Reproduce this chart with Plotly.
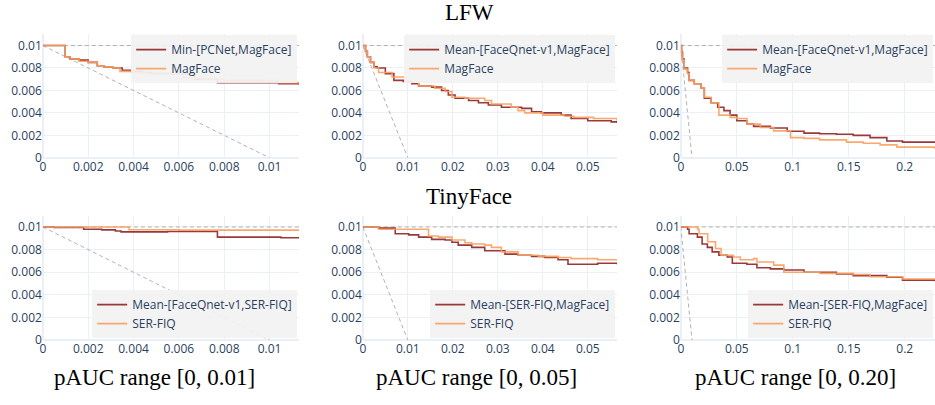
import plotly.graph_objects as go

# ---------------- data ----------------
row_titles = ["LFW", "TinyFace"]
col_titles = ["pAUC range [0, 0.01]", "pAUC range [0, 0.05]", "pAUC range [0, 0.20]"]
x_max = [0.0113, 0.0565, 0.227]
x_dtick = [0.002, 0.01, 0.05]

names = [
    ["Min-[PCNet,MagFace]", "MagFace"],
    ["Mean-[FaceQnet-v1,MagFace]", "MagFace"],
    ["Mean-[FaceQnet-v1,MagFace]", "MagFace"],
    ["Mean-[FaceQnet-v1,SER-FIQ]", "SER-FIQ"],
    ["Mean-[SER-FIQ,MagFace]", "SER-FIQ"],
    ["Mean-[SER-FIQ,MagFace]", "SER-FIQ"],
]

# LFW [0,0.01]
p1_a_x = [0, 0.00098, 0.0012, 0.0016, 0.0020, 0.0024, 0.0027, 0.0031, 0.0035, 0.0039, 0.0044, 0.0048, 0.0067, 0.0077, 0.0090, 0.0104, 0.0113]
p1_a_y = [0.0100, 0.0090, 0.0088, 0.0087, 0.0085, 0.0082, 0.0081, 0.0080, 0.0078, 0.0077, 0.0076, 0.0075, 0.0070, 0.0067, 0.0067, 0.0066, 0.0065]
p1_b_x = [0, 0.00098, 0.0012, 0.0016, 0.0020, 0.0024, 0.0027, 0.0031, 0.0034, 0.0040, 0.0046, 0.0062, 0.0070, 0.0080, 0.0095, 0.0104, 0.0113]
p1_b_y = [0.0100, 0.0090, 0.0088, 0.0086, 0.0085, 0.0082, 0.0081, 0.0080, 0.0077, 0.0076, 0.0075, 0.0071, 0.0070, 0.0069, 0.0069, 0.0067, 0.0066]

# LFW [0,0.05]
p2_a_x = [0, 0.0006, 0.0010, 0.0017, 0.0025, 0.0032, 0.0050, 0.0069, 0.0090, 0.0109, 0.0124, 0.0153, 0.0175, 0.0190, 0.0205, 0.0235, 0.0257, 0.0279, 0.0308, 0.0330, 0.0353, 0.0375, 0.0397, 0.0441, 0.0463, 0.0500, 0.0552, 0.0565]
p2_a_y = [0.0100, 0.0095, 0.0090, 0.0085, 0.0081, 0.0080, 0.0075, 0.0069, 0.0068, 0.0066, 0.0064, 0.0063, 0.0060, 0.0056, 0.0053, 0.0051, 0.0049, 0.0047, 0.0045, 0.0045, 0.0044, 0.0041, 0.0040, 0.0038, 0.0035, 0.0033, 0.0032, 0.0031]
p2_b_x = [0, 0.0006, 0.0010, 0.0017, 0.0025, 0.0035, 0.0065, 0.0094, 0.0124, 0.0160, 0.0183, 0.0198, 0.0227, 0.0271, 0.0286, 0.0330, 0.0345, 0.0360, 0.0400, 0.0448, 0.0469, 0.0513, 0.0565]
p2_b_y = [0.0100, 0.0095, 0.0090, 0.0085, 0.0080, 0.0076, 0.0072, 0.0068, 0.0064, 0.0062, 0.0059, 0.0054, 0.0053, 0.0051, 0.0048, 0.0045, 0.0042, 0.0040, 0.0038, 0.0037, 0.0036, 0.0035, 0.0033]

# LFW [0,0.20]
p3_a_x = [0, 0.0007, 0.0015, 0.0030, 0.0060, 0.0074, 0.012, 0.018, 0.021, 0.027, 0.033, 0.0385, 0.044, 0.050, 0.059, 0.065, 0.080, 0.095, 0.110, 0.124, 0.139, 0.154, 0.169, 0.184, 0.198, 0.227]
p3_a_y = [0.0100, 0.0094, 0.0088, 0.0080, 0.0076, 0.0069, 0.0066, 0.0062, 0.0053, 0.0049, 0.0045, 0.0042, 0.0038, 0.0033, 0.0030, 0.0028, 0.00265, 0.00236, 0.0022, 0.00215, 0.0021, 0.0020, 0.0018, 0.0015, 0.0014, 0.00133]
p3_b_x = [0, 0.0007, 0.0015, 0.0030, 0.0060, 0.0074, 0.012, 0.018, 0.021, 0.027, 0.034, 0.044, 0.050, 0.059, 0.071, 0.083, 0.098, 0.110, 0.124, 0.148, 0.163, 0.178, 0.193, 0.227]
p3_b_y = [0.0100, 0.0093, 0.0087, 0.0079, 0.0075, 0.0069, 0.0066, 0.0062, 0.0054, 0.0049, 0.0038, 0.0036, 0.0035, 0.0030, 0.0027, 0.0024, 0.0018, 0.00173, 0.0016, 0.0014, 0.0013, 0.00115, 0.00095, 0.00078]

# TinyFace [0,0.01]
p4_a_x = [0, 0.0005, 0.0018, 0.0026, 0.0032, 0.00345, 0.0055, 0.0077, 0.0105, 0.0113]
p4_a_y = [0.0100, 0.00995, 0.0098, 0.00974, 0.00965, 0.00957, 0.0096, 0.0091, 0.00905, 0.00905]
p4_b_x = [0, 0.0038, 0.0060, 0.0113]
p4_b_y = [0.0100, 0.00975, 0.00972, 0.00972]

# TinyFace [0,0.05]
p5_a_x = [0, 0.0035, 0.0072, 0.0102, 0.0124, 0.0153, 0.0183, 0.0198, 0.0212, 0.0242, 0.0271, 0.0301, 0.0316, 0.0345, 0.0375, 0.0404, 0.0434, 0.0456, 0.0522, 0.0565]
p5_a_y = [0.0100, 0.0099, 0.0094, 0.0093, 0.0091, 0.0089, 0.00885, 0.00865, 0.0084, 0.0082, 0.0079, 0.0079, 0.0076, 0.0075, 0.0074, 0.0073, 0.0071, 0.0067, 0.0068, 0.0067]
p5_b_x = [0, 0.0035, 0.0146, 0.0168, 0.0198, 0.0227, 0.0242, 0.0271, 0.0286, 0.0308, 0.0345, 0.0390, 0.0434, 0.0463, 0.0522, 0.0565]
p5_b_y = [0.0100, 0.0098, 0.0092, 0.0091, 0.00885, 0.0086, 0.0085, 0.0084, 0.0082, 0.0078, 0.0075, 0.0074, 0.0073, 0.0072, 0.0071, 0.0071]

# TinyFace [0,0.20]
p6_a_x = [0, 0.006, 0.0074, 0.0148, 0.019, 0.0237, 0.028, 0.034, 0.0415, 0.046, 0.059, 0.068, 0.080, 0.092, 0.110, 0.124, 0.139, 0.154, 0.169, 0.184, 0.198, 0.227]
p6_a_y = [0.0100, 0.0098, 0.0094, 0.0091, 0.0085, 0.0082, 0.0078, 0.0075, 0.00735, 0.0068, 0.0067, 0.0064, 0.0063, 0.0062, 0.0060, 0.0060, 0.00585, 0.0057, 0.0057, 0.00556, 0.0053, 0.0052]
p6_b_x = [0, 0.015, 0.0163, 0.024, 0.031, 0.036, 0.047, 0.053, 0.065, 0.068, 0.083, 0.092, 0.110, 0.124, 0.154, 0.169, 0.184, 0.198, 0.227]
p6_b_y = [0.0100, 0.0098, 0.0094, 0.0087, 0.0081, 0.0075, 0.00735, 0.0071, 0.0072, 0.0069, 0.00663, 0.0060, 0.0060, 0.0059, 0.0058, 0.0056, 0.0056, 0.0054, 0.0054]

series = [
    (p1_a_x, p1_a_y, p1_b_x, p1_b_y),
    (p2_a_x, p2_a_y, p2_b_x, p2_b_y),
    (p3_a_x, p3_a_y, p3_b_x, p3_b_y),
    (p4_a_x, p4_a_y, p4_b_x, p4_b_y),
    (p5_a_x, p5_a_y, p5_b_x, p5_b_y),
    (p6_a_x, p6_a_y, p6_b_x, p6_b_y),
]

ref_level = 0.01
diag_end = 0.01

# ---------------- figure ----------------
W, H = 935, 405
col_px = [(40, 297), (361, 616), (680, 935)]
row_px = [(35, 161), (220, 347)]

DARK = "rgba(145,40,40,0.92)"
ORANGE = "rgba(248,160,95,0.9)"
GRAY = "rgba(170,170,170,0.9)"

fig = go.Figure()
layout_upd = {}
for i in range(6):
    r, c = divmod(i, 3)
    idx = "" if i == 0 else str(i + 1)
    xa, ya = "x" + idx, "y" + idx
    lg = "legend" + idx
    ax, ay, bx, by = series[i]
    xm = x_max[c]
    fig.add_trace(go.Scatter(x=[0, xm], y=[ref_level, ref_level], mode="lines",
                             line=dict(color=GRAY, width=1, dash="4px,3px"),
                             showlegend=False, hoverinfo="skip", xaxis=xa, yaxis=ya))
    fig.add_trace(go.Scatter(x=[0, diag_end], y=[ref_level, 0], mode="lines",
                             line=dict(color=GRAY, width=1, dash="4px,3px"),
                             showlegend=False, hoverinfo="skip", xaxis=xa, yaxis=ya))
    fig.add_trace(go.Scatter(x=ax, y=ay, mode="lines", line_shape="hv",
                             line=dict(color=DARK, width=1.6), name=names[i][0],
                             xaxis=xa, yaxis=ya, legend=lg))
    fig.add_trace(go.Scatter(x=bx, y=by, mode="lines", line_shape="hv",
                             line=dict(color=ORANGE, width=1.6), name=names[i][1],
                             xaxis=xa, yaxis=ya, legend=lg))
    x0, x1 = col_px[c]
    y0, y1 = row_px[r]
    xdom = [x0 / W, x1 / W]
    ydom = [1 - y1 / H, 1 - y0 / H]
    layout_upd["xaxis" + idx] = dict(domain=xdom, range=[0, xm], dtick=x_dtick[c], anchor=ya,
                                     gridcolor="#EBF0F8", zerolinecolor="#EBF0F8",
                                     tickfont=dict(size=12, color="#2a3f5f"))
    layout_upd["yaxis" + idx] = dict(domain=ydom, range=[0, 0.011], dtick=0.002, anchor=xa,
                                     gridcolor="#EBF0F8", zerolinecolor="#EBF0F8",
                                     tickfont=dict(size=12, color="#2a3f5f"))
    if r == 0:
        legpos = dict(x=xdom[1] - 0.002, y=ydom[1] - 0.002, xanchor="right", yanchor="top")
    else:
        legpos = dict(x=xdom[1] - 0.002, y=ydom[0] + 0.005, xanchor="right", yanchor="bottom")
    layout_upd[lg] = dict(**legpos, bgcolor="rgba(242,242,242,0.92)",
                          font=dict(size=12, color="#2a3f5f"),
                          itemwidth=30, tracegroupgap=0)

fig.update_layout(**layout_upd)

ann = []
serif = "Liberation Serif, Times New Roman, serif"
ann.append(dict(text=row_titles[0], x=0.5, y=1 - 13 / H, xref="paper", yref="paper",
                xanchor="center", yanchor="middle",
                showarrow=False, font=dict(family=serif, size=23, color="black")))
ann.append(dict(text=row_titles[1], x=0.5, y=1 - 200 / H, xref="paper", yref="paper",
                xanchor="center", yanchor="middle",
                showarrow=False, font=dict(family=serif, size=23, color="black")))
for c, cx in enumerate([152, 475, 795]):
    ann.append(dict(text=col_titles[c], x=cx / W, y=1 - 385 / H, xref="paper", yref="paper",
                    xanchor="center", yanchor="middle",
                    showarrow=False, font=dict(family=serif, size=23, color="black")))

fig.update_layout(
    template="plotly_white",
    width=W, height=H,
    margin=dict(l=0, r=0, t=0, b=0),
    annotations=ann,
    paper_bgcolor="white", plot_bgcolor="white",
    font=dict(family="Open Sans, sans-serif"),
)

fig.write_html("out.html", config={"displayModeBar": False},
               post_script="document.body.style.margin='0px';")
